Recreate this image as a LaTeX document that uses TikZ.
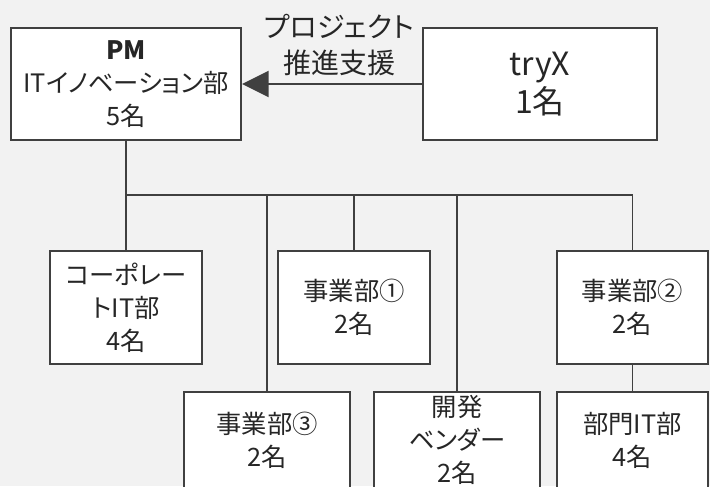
\documentclass[tikz,border=0pt]{standalone}
\usepackage{fontspec}
\setmainfont{Noto Sans CJK JP}[RawFeature=+palt]
\usetikzlibrary{arrows.meta}
\definecolor{bg}{HTML}{F2F2F2}
\definecolor{ln}{HTML}{404040}
\definecolor{tx}{HTML}{262626}
\begin{document}
\begin{tikzpicture}[x=0.75pt,y=-0.75pt,
  box/.style={draw=ln, line width=1.5pt, fill=white, inner sep=0pt, align=center, text=tx,
              font=\fontsize{19}{24.75}\selectfont},
  bigbox/.style={box, font=\fontsize{24}{29}\selectfont},
  lbl/.style={align=center, text=tx, inner sep=0pt, font=\fontsize{21}{27}\selectfont},
  conn/.style={draw=ln, line width=1.2pt},
  trunk/.style={draw=ln, line width=1.6pt},
  arr/.style={draw=ln, line width=1.5pt, -{Triangle[length=20pt,width=19.5pt,fill=ln]}}]
\useasboundingbox[fill=bg] (0,0) rectangle (710,486);

\node[box, minimum width=172.5pt, minimum height=84pt] (pm) at (126,84)
  {\textbf{PM}\\ITイノベーション部\\5名};
\node[bigbox, minimum width=175.5pt, minimum height=84pt] (try) at (540,84)
  {tryX\\1名};
\node[lbl] (sup) at (339,45) {プロジェクト\\推進支援};

\node[box, minimum width=114pt, minimum height=84.75pt] (corp) at (126,307.5)
  {コーポレー\\トIT部\\4名};
\node[box, minimum width=114pt, minimum height=84.75pt] (bu1) at (354,307.5)
  {事業部①\\2名};
\node[box, minimum width=113.25pt, minimum height=84.75pt] (bu2) at (632.5,307.5)
  {事業部②\\2名};
\node[box, minimum width=124.5pt, minimum height=72pt] (bu3) at (267,440)
  {事業部③\\2名};
\node[box, minimum width=124.5pt, minimum height=72pt] (dev) at (457,440)
  {開発\\ベンダー\\2名};
\node[box, minimum width=113.25pt, minimum height=72pt] (itd) at (632.5,440)
  {部門IT部\\4名};

\coordinate (bus) at (126,195);
\draw[arr] (try.west) -- (pm.east);
\draw[trunk] (pm.south) -- (bus) -- (bus -| bu3.north);
\draw[conn] (bus) -- (corp.north);
\draw[conn] (bus) -| (bu3.north);
\draw[conn] (bus) -| (bu1.north);
\draw[conn] (bus) -| (dev.north);
\draw[conn] (bus) -| (bu2.north);
\draw[conn] (bu2.south) -- (itd.north);
\end{tikzpicture}
\end{document}
